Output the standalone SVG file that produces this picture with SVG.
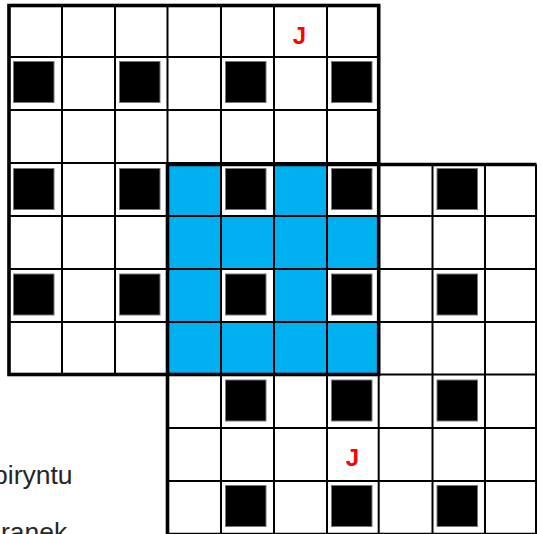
<svg xmlns="http://www.w3.org/2000/svg" width="542" height="534" viewBox="0 0 542 534">
<style>
.cell{fill:#ffffff}
.blue{fill:#00B0F0}
.blk{fill:#000000;stroke:#777777;stroke-width:1}
.thin{stroke:#000000;stroke-width:2;fill:none}
.thick{stroke:#000000;stroke-width:3.6;fill:none}
.j{font-family:"Liberation Sans",Arial,sans-serif;font-weight:bold;font-size:24px;fill:#FF0000;text-anchor:middle}
.lbl{font-family:"Liberation Sans",Arial,sans-serif;font-size:26.5px;fill:#262626}
</style>
<rect x="0" y="0" width="542" height="534" fill="#ffffff"/>
<g id="labels">
<text class="lbl" x="-7" y="484">biryntu</text>
<text class="lbl" x="1" y="541">ranek</text>
</g>
<g id="grid1-bg"><rect class="cell" x="9" y="5.5" width="369.7" height="369"/></g>
<g id="grid2-bg"><rect class="cell" x="167.5" y="164.5" width="369" height="369.5"/></g>
<g id="overlap">
<rect class="blue" x="167.5" y="164.5" width="211.2" height="210"/>
<rect class="cell" x="221" y="164.5" width="53" height="51.5"/>
<rect class="cell" x="327" y="164.5" width="51.7" height="51.5"/>
<rect class="cell" x="221" y="269" width="53" height="53"/>
<rect class="cell" x="327" y="269" width="51.7" height="53"/>
</g>
<g id="grid1-blocks">
<rect class="blk" x="13.5" y="61.5" width="40.5" height="41"/>
<rect class="blk" x="119.5" y="61.5" width="40.5" height="41"/>
<rect class="blk" x="225.5" y="61.5" width="40.5" height="41"/>
<rect class="blk" x="331.5" y="61.5" width="40.5" height="41"/>
<rect class="blk" x="13.5" y="168.5" width="40.5" height="41"/>
<rect class="blk" x="119.5" y="168.5" width="40.5" height="41"/>
<rect class="blk" x="225.5" y="168.5" width="40.5" height="41"/>
<rect class="blk" x="331.5" y="168.5" width="40.5" height="41"/>
<rect class="blk" x="13.5" y="274" width="40.5" height="41"/>
<rect class="blk" x="119.5" y="274" width="40.5" height="41"/>
<rect class="blk" x="225.5" y="274" width="40.5" height="41"/>
<rect class="blk" x="331.5" y="274" width="40.5" height="41"/>
</g>
<g id="grid2-blocks">
<rect class="blk" x="437" y="168.5" width="40.5" height="41"/>
<rect class="blk" x="437" y="274" width="40.5" height="41"/>
<rect class="blk" x="225.5" y="380" width="40.5" height="41"/>
<rect class="blk" x="331.5" y="380" width="40.5" height="41"/>
<rect class="blk" x="437" y="380" width="40.5" height="41"/>
<rect class="blk" x="225.5" y="485.5" width="40.5" height="41"/>
<rect class="blk" x="331.5" y="485.5" width="40.5" height="41"/>
<rect class="blk" x="437" y="485.5" width="40.5" height="41"/>
</g>
<g id="grid1-lines">
<path class="thin" d="M62 5.5V374.5M115 5.5V374.5M167.5 5.5V374.5M221 5.5V374.5M274 5.5V374.5M327 5.5V374.5M9 57H378.7M9 110H378.7M9 163H378.7M9 216H378.7M9 269H378.7M9 322H378.7"/>
</g>
<g id="grid2-lines">
<path class="thin" d="M221 164.5V534M274 164.5V534M327 164.5V534M378.7 164.5V534M432.5 164.5V534M485 164.5V534M536 164.5V534M167.5 216H536.5M167.5 269H536.5M167.5 322H536.5M167.5 374.5H536.5M167.5 428H536.5M167.5 481H536.5"/>
</g>
<g id="borders">
<path class="thick" d="M167.5 534.5V164.5H536.5"/>
<path class="thick" d="M167.5 534.5H536.5"/>
<rect class="thick" x="9" y="5.5" width="369.7" height="369"/>
</g>
<g id="marks">
<text class="j" x="299.5" y="43.5">J</text>
<text class="j" x="352.5" y="465.5">J</text>
</g>
</svg>
